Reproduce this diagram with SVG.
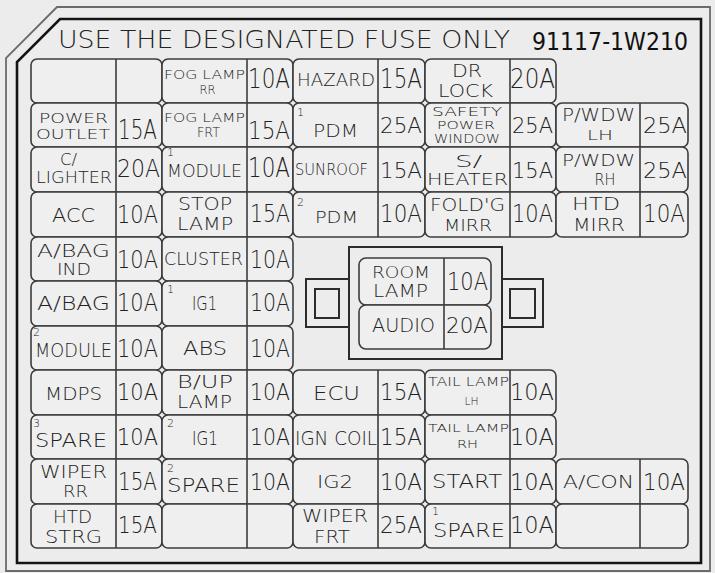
<svg xmlns="http://www.w3.org/2000/svg" width="715" height="573" viewBox="0 0 715 573">
<style>
.bg{fill:#ececec}
.cell{fill:#efefef;stroke:#3c3c3c;stroke-width:1.6}
.dv{stroke:#3c3c3c;stroke-width:1.6}
.outer{fill:none;stroke:#6a6a6a;stroke-width:1.8}
.inner{fill:none;stroke:#141414;stroke-width:2.6}
.box{fill:#ececec;stroke:#2c2c2c;stroke-width:2}
text{font-family:"DejaVu Sans","Liberation Sans",Arial,sans-serif;font-weight:200;fill:#222;text-anchor:middle}
.sup{text-anchor:start;font-size:11px}
.title{font-size:25px;fill:#222}
.pn{font-size:24px;font-weight:400;fill:#111}
</style>
<rect class="bg" x="0" y="0" width="715" height="573"/>
<g id="frame">
<path class="outer" d="M57,7 L710,7 L710,571 L6,571 L6,58 Z"/>
<path class="inner" d="M60,19 L701,19 L701,563 L17,563 L17,62 Z"/>
</g>
<g id="title">
<text class="title" x="284" y="48" textLength="452" lengthAdjust="spacingAndGlyphs">USE THE DESIGNATED FUSE ONLY</text>
<text class="pn" x="610" y="50" textLength="156" lengthAdjust="spacingAndGlyphs">91117-1W210</text>
</g>
<g id="connectors"></g>

<!-- Row 1 -->
<g id="r1c1"><rect class="cell" x="31" y="59" width="131" height="44" rx="6"/><line class="dv" x1="116" y1="59" x2="116" y2="103"/></g>
<g id="r1c2"><rect class="cell" x="162" y="59" width="131" height="44" rx="6"/><line class="dv" x1="247" y1="59" x2="247" y2="103"/>
<text x="204.5" y="79" font-size="13" textLength="81" lengthAdjust="spacingAndGlyphs">FOG LAMP</text>
<text x="207.5" y="94" font-size="12" textLength="16" lengthAdjust="spacingAndGlyphs">RR</text>
<text x="269" y="88" font-size="26" textLength="42" lengthAdjust="spacingAndGlyphs">10A</text></g>
<g id="r1c3"><rect class="cell" x="293" y="59" width="132" height="44" rx="6"/><line class="dv" x1="378" y1="59" x2="378" y2="103"/>
<text x="336" y="86" font-size="18" textLength="78" lengthAdjust="spacingAndGlyphs">HAZARD</text>
<text x="401" y="88" font-size="26" textLength="42" lengthAdjust="spacingAndGlyphs">15A</text></g>
<g id="r1c4"><rect class="cell" x="425" y="59" width="131" height="44" rx="6"/><line class="dv" x1="510" y1="59" x2="510" y2="103"/>
<text x="467" y="77" font-size="18" textLength="30" lengthAdjust="spacingAndGlyphs">DR</text>
<text x="465.5" y="97" font-size="18" textLength="55" lengthAdjust="spacingAndGlyphs">LOCK</text>
<text x="532.5" y="88" font-size="26" textLength="45" lengthAdjust="spacingAndGlyphs">20A</text></g>

<!-- Row 2 -->
<g id="r2c1"><rect class="cell" x="31" y="103" width="131" height="44" rx="6"/><line class="dv" x1="116" y1="103" x2="116" y2="147"/>
<text x="73.5" y="123" font-size="14" textLength="69" lengthAdjust="spacingAndGlyphs">POWER</text>
<text x="73" y="139" font-size="14" textLength="74" lengthAdjust="spacingAndGlyphs">OUTLET</text>
<text x="137.5" y="139" font-size="26" textLength="39" lengthAdjust="spacingAndGlyphs">15A</text></g>
<g id="r2c2"><rect class="cell" x="162" y="103" width="131" height="44" rx="6"/><line class="dv" x1="247" y1="103" x2="247" y2="147"/>
<text x="204.5" y="122" font-size="13" textLength="81" lengthAdjust="spacingAndGlyphs">FOG LAMP</text>
<text x="208.5" y="137" font-size="14" textLength="23" lengthAdjust="spacingAndGlyphs">FRT</text>
<text x="269" y="139" font-size="25" textLength="42" lengthAdjust="spacingAndGlyphs">15A</text></g>
<g id="r2c3"><rect class="cell" x="293" y="103" width="132" height="44" rx="6"/><line class="dv" x1="378" y1="103" x2="378" y2="147"/>
<text class="sup" x="297" y="116" text-anchor="start">1</text>
<text x="335.5" y="137" font-size="17" textLength="45" lengthAdjust="spacingAndGlyphs">PDM</text>
<text x="401" y="133" font-size="21" textLength="42" lengthAdjust="spacingAndGlyphs">25A</text></g>
<g id="r2c4"><rect class="cell" x="425" y="103" width="131" height="44" rx="6"/><line class="dv" x1="510" y1="103" x2="510" y2="147"/>
<text x="467" y="116" font-size="12" textLength="70" lengthAdjust="spacingAndGlyphs">SAFETY</text>
<text x="466" y="129" font-size="11" textLength="58" lengthAdjust="spacingAndGlyphs">POWER</text>
<text x="467" y="143" font-size="12" textLength="66" lengthAdjust="spacingAndGlyphs">WINDOW</text>
<text x="532.5" y="133" font-size="21" textLength="41" lengthAdjust="spacingAndGlyphs">25A</text></g>
<g id="r2c5"><rect class="cell" x="556" y="103" width="132" height="44" rx="6"/><line class="dv" x1="640" y1="103" x2="640" y2="147"/>
<text x="598.5" y="121" font-size="17" textLength="73" lengthAdjust="spacingAndGlyphs">P/WDW</text>
<text x="600" y="140" font-size="14" textLength="26" lengthAdjust="spacingAndGlyphs">LH</text>
<text x="665" y="133" font-size="21" textLength="44" lengthAdjust="spacingAndGlyphs">25A</text></g>

<!-- Row 3 -->
<g id="r3c1"><rect class="cell" x="31" y="147" width="131" height="45" rx="6"/><line class="dv" x1="116" y1="147" x2="116" y2="192"/>
<text x="68.5" y="165" font-size="15" textLength="17" lengthAdjust="spacingAndGlyphs">C/</text>
<text x="74" y="183" font-size="16" textLength="76" lengthAdjust="spacingAndGlyphs">LIGHTER</text>
<text x="138.5" y="177" font-size="25" textLength="43" lengthAdjust="spacingAndGlyphs">20A</text></g>
<g id="r3c2"><rect class="cell" x="162" y="147" width="131" height="45" rx="6"/><line class="dv" x1="247" y1="147" x2="247" y2="192"/>
<text class="sup" x="167" y="156" text-anchor="start">1</text>
<text x="204.5" y="177" font-size="18" textLength="75" lengthAdjust="spacingAndGlyphs">MODULE</text>
<text x="269" y="177" font-size="26" textLength="42" lengthAdjust="spacingAndGlyphs">10A</text></g>
<g id="r3c3"><rect class="cell" x="293" y="147" width="132" height="45" rx="6"/><line class="dv" x1="378" y1="147" x2="378" y2="192"/>
<text x="331.5" y="175" font-size="16" textLength="73" lengthAdjust="spacingAndGlyphs">SUNROOF</text>
<text x="401" y="178" font-size="21" textLength="42" lengthAdjust="spacingAndGlyphs">15A</text></g>
<g id="r3c4"><rect class="cell" x="425" y="147" width="131" height="45" rx="6"/><line class="dv" x1="510" y1="147" x2="510" y2="192"/>
<text x="468.5" y="167" font-size="16" textLength="27" lengthAdjust="spacingAndGlyphs">S/</text>
<text x="467.5" y="185" font-size="16" textLength="81" lengthAdjust="spacingAndGlyphs">HEATER</text>
<text x="532.5" y="178" font-size="21" textLength="41" lengthAdjust="spacingAndGlyphs">15A</text></g>
<g id="r3c5"><rect class="cell" x="556" y="147" width="132" height="45" rx="6"/><line class="dv" x1="640" y1="147" x2="640" y2="192"/>
<text x="598.5" y="166" font-size="16" textLength="73" lengthAdjust="spacingAndGlyphs">P/WDW</text>
<text x="605" y="185" font-size="16" textLength="21" lengthAdjust="spacingAndGlyphs">RH</text>
<text x="665" y="178" font-size="21" textLength="44" lengthAdjust="spacingAndGlyphs">25A</text></g>

<!-- Row 4 -->
<g id="r4c1"><rect class="cell" x="31" y="192" width="131" height="45" rx="6"/><line class="dv" x1="116" y1="192" x2="116" y2="237"/>
<text x="73.5" y="222" font-size="20" textLength="43" lengthAdjust="spacingAndGlyphs">ACC</text>
<text x="137.5" y="223" font-size="25" textLength="41" lengthAdjust="spacingAndGlyphs">10A</text></g>
<g id="r4c2"><rect class="cell" x="162" y="192" width="131" height="45" rx="6"/><line class="dv" x1="247" y1="192" x2="247" y2="237"/>
<text x="205" y="210" font-size="17" textLength="54" lengthAdjust="spacingAndGlyphs">STOP</text>
<text x="205" y="230" font-size="18" textLength="56" lengthAdjust="spacingAndGlyphs">LAMP</text>
<text x="270" y="222" font-size="24" textLength="40" lengthAdjust="spacingAndGlyphs">15A</text></g>
<g id="r4c3"><rect class="cell" x="293" y="192" width="132" height="45" rx="6"/><line class="dv" x1="378" y1="192" x2="378" y2="237"/>
<text class="sup" x="297" y="206" text-anchor="start">2</text>
<text x="336.5" y="223" font-size="16" textLength="43" lengthAdjust="spacingAndGlyphs">PDM</text>
<text x="401" y="222" font-size="24" textLength="42" lengthAdjust="spacingAndGlyphs">10A</text></g>
<g id="r4c4"><rect class="cell" x="425" y="192" width="131" height="45" rx="6"/><line class="dv" x1="510" y1="192" x2="510" y2="237"/>
<text x="467.5" y="211" font-size="18" textLength="75" lengthAdjust="spacingAndGlyphs">FOLD'G</text>
<text x="468" y="230.5" font-size="16.5" textLength="48" lengthAdjust="spacingAndGlyphs">MIRR</text>
<text x="532.5" y="222" font-size="24" textLength="41" lengthAdjust="spacingAndGlyphs">10A</text></g>
<g id="r4c5"><rect class="cell" x="556" y="192" width="132" height="45" rx="6"/><line class="dv" x1="640" y1="192" x2="640" y2="237"/>
<text x="596" y="210" font-size="17" textLength="48" lengthAdjust="spacingAndGlyphs">HTD</text>
<text x="599" y="230.5" font-size="17" textLength="52" lengthAdjust="spacingAndGlyphs">MIRR</text>
<text x="664" y="222" font-size="24" textLength="42" lengthAdjust="spacingAndGlyphs">10A</text></g>

<!-- Row 5 -->
<g id="r5c1"><rect class="cell" x="31" y="237" width="131" height="44" rx="6"/><line class="dv" x1="116" y1="237" x2="116" y2="281"/>
<text x="73.5" y="257" font-size="17" textLength="73" lengthAdjust="spacingAndGlyphs">A/BAG</text>
<text x="74" y="275" font-size="15.5" textLength="34" lengthAdjust="spacingAndGlyphs">IND</text>
<text x="137.5" y="268" font-size="25" textLength="41" lengthAdjust="spacingAndGlyphs">10A</text></g>
<g id="r5c2"><rect class="cell" x="162" y="237" width="131" height="44" rx="6"/><line class="dv" x1="247" y1="237" x2="247" y2="281"/>
<text x="203.5" y="265" font-size="17" textLength="79" lengthAdjust="spacingAndGlyphs">CLUSTER</text>
<text x="270" y="268" font-size="25" textLength="40" lengthAdjust="spacingAndGlyphs">10A</text></g>

<!-- Row 6 -->
<g id="r6c1"><rect class="cell" x="31" y="281" width="131" height="45" rx="6"/><line class="dv" x1="116" y1="281" x2="116" y2="326"/>
<text x="73.5" y="310" font-size="20" textLength="73" lengthAdjust="spacingAndGlyphs">A/BAG</text>
<text x="137.5" y="311" font-size="25" textLength="41" lengthAdjust="spacingAndGlyphs">10A</text></g>
<g id="r6c2"><rect class="cell" x="162" y="281" width="131" height="45" rx="6"/><line class="dv" x1="247" y1="281" x2="247" y2="326"/>
<text class="sup" x="167" y="293" text-anchor="start">1</text>
<text x="204.5" y="310" font-size="20" textLength="25" lengthAdjust="spacingAndGlyphs">IG1</text>
<text x="270" y="311" font-size="25" textLength="40" lengthAdjust="spacingAndGlyphs">10A</text></g>

<!-- Row 7 -->
<g id="r7c1"><rect class="cell" x="31" y="326" width="131" height="44" rx="6"/><line class="dv" x1="116" y1="326" x2="116" y2="370"/>
<text class="sup" x="33" y="336" text-anchor="start">2</text>
<text x="73.5" y="357" font-size="19" textLength="77" lengthAdjust="spacingAndGlyphs">MODULE</text>
<text x="137.5" y="357" font-size="25" textLength="41" lengthAdjust="spacingAndGlyphs">10A</text></g>
<g id="r7c2"><rect class="cell" x="162" y="326" width="131" height="44" rx="6"/><line class="dv" x1="247" y1="326" x2="247" y2="370"/>
<text x="205" y="355" font-size="20" textLength="44" lengthAdjust="spacingAndGlyphs">ABS</text>
<text x="270" y="357" font-size="25" textLength="40" lengthAdjust="spacingAndGlyphs">10A</text></g>

<!-- Relay block -->
<g id="relay">
<rect class="box" x="306" y="279" width="43" height="48"/>
<rect class="box" x="315" y="289" width="24" height="29"/>
<rect class="box" x="502" y="279" width="41" height="48"/>
<rect class="box" x="510" y="289" width="25" height="29"/>
<rect class="box" x="349" y="247" width="153" height="112"/>
</g>
<g id="room-lamp"><rect class="cell" x="359" y="258" width="132" height="47" rx="7"/><line class="dv" x1="444" y1="258" x2="444" y2="305"/>
<text x="401" y="278" font-size="16" textLength="58" lengthAdjust="spacingAndGlyphs">ROOM</text>
<text x="400.5" y="297" font-size="17" textLength="55" lengthAdjust="spacingAndGlyphs">LAMP</text>
<text x="467.5" y="290" font-size="25" textLength="41" lengthAdjust="spacingAndGlyphs">10A</text></g>
<g id="audio"><rect class="cell" x="359" y="305" width="132" height="44" rx="7"/><line class="dv" x1="444" y1="305" x2="444" y2="349"/>
<text x="403.5" y="332" font-size="19" textLength="63" lengthAdjust="spacingAndGlyphs">AUDIO</text>
<text x="467" y="333" font-size="22" textLength="42" lengthAdjust="spacingAndGlyphs">20A</text></g>

<!-- Row 8 -->
<g id="r8c1"><rect class="cell" x="31" y="370" width="131" height="45" rx="6"/><line class="dv" x1="116" y1="370" x2="116" y2="415"/>
<text x="73.5" y="400" font-size="18" textLength="57" lengthAdjust="spacingAndGlyphs">MDPS</text>
<text x="137.5" y="400" font-size="23" textLength="41" lengthAdjust="spacingAndGlyphs">10A</text></g>
<g id="r8c2"><rect class="cell" x="162" y="370" width="131" height="45" rx="6"/><line class="dv" x1="247" y1="370" x2="247" y2="415"/>
<text x="205" y="388" font-size="17" textLength="56" lengthAdjust="spacingAndGlyphs">B/UP</text>
<text x="204.5" y="408" font-size="17" textLength="55" lengthAdjust="spacingAndGlyphs">LAMP</text>
<text x="270" y="400" font-size="23" textLength="40" lengthAdjust="spacingAndGlyphs">10A</text></g>
<g id="r8c3"><rect class="cell" x="293" y="370" width="132" height="45" rx="6"/><line class="dv" x1="378" y1="370" x2="378" y2="415"/>
<text x="336.5" y="400" font-size="19" textLength="47" lengthAdjust="spacingAndGlyphs">ECU</text>
<text x="401" y="400" font-size="23" textLength="42" lengthAdjust="spacingAndGlyphs">15A</text></g>
<g id="r8c4"><rect class="cell" x="425" y="370" width="131" height="45" rx="6"/><line class="dv" x1="510" y1="370" x2="510" y2="415"/>
<text x="468.5" y="386" font-size="12" textLength="81" lengthAdjust="spacingAndGlyphs">TAIL LAMP</text>
<text x="471.5" y="405" font-size="11" textLength="14" lengthAdjust="spacingAndGlyphs">LH</text>
<text x="532" y="400" font-size="23" textLength="44" lengthAdjust="spacingAndGlyphs">10A</text></g>

<!-- Row 9 -->
<g id="r9c1"><rect class="cell" x="31" y="415" width="131" height="44" rx="6"/><line class="dv" x1="116" y1="415" x2="116" y2="459"/>
<text class="sup" x="33" y="427" text-anchor="start">3</text>
<text x="71" y="447" font-size="19" textLength="72" lengthAdjust="spacingAndGlyphs">SPARE</text>
<text x="137.5" y="445" font-size="23" textLength="41" lengthAdjust="spacingAndGlyphs">10A</text></g>
<g id="r9c2"><rect class="cell" x="162" y="415" width="131" height="44" rx="6"/><line class="dv" x1="247" y1="415" x2="247" y2="459"/>
<text class="sup" x="167" y="427" text-anchor="start">2</text>
<text x="205" y="445" font-size="20" textLength="26" lengthAdjust="spacingAndGlyphs">IG1</text>
<text x="270" y="445" font-size="23" textLength="40" lengthAdjust="spacingAndGlyphs">10A</text></g>
<g id="r9c3"><rect class="cell" x="293" y="415" width="132" height="44" rx="6"/><line class="dv" x1="378" y1="415" x2="378" y2="459"/>
<text x="336" y="445" font-size="20" textLength="82" lengthAdjust="spacingAndGlyphs">IGN COIL</text>
<text x="401" y="445" font-size="23" textLength="42" lengthAdjust="spacingAndGlyphs">15A</text></g>
<g id="r9c4"><rect class="cell" x="425" y="415" width="131" height="44" rx="6"/><line class="dv" x1="510" y1="415" x2="510" y2="459"/>
<text x="468.5" y="432" font-size="11" textLength="81" lengthAdjust="spacingAndGlyphs">TAIL LAMP</text>
<text x="467.5" y="448" font-size="11" textLength="21" lengthAdjust="spacingAndGlyphs">RH</text>
<text x="532" y="445" font-size="23" textLength="44" lengthAdjust="spacingAndGlyphs">10A</text></g>

<!-- Row 10 -->
<g id="r10c1"><rect class="cell" x="31" y="459" width="131" height="45" rx="6"/><line class="dv" x1="116" y1="459" x2="116" y2="504"/>
<text x="73.5" y="478" font-size="17" textLength="67" lengthAdjust="spacingAndGlyphs">WIPER</text>
<text x="75.5" y="497" font-size="16" textLength="25" lengthAdjust="spacingAndGlyphs">RR</text>
<text x="137.5" y="490" font-size="24" textLength="39" lengthAdjust="spacingAndGlyphs">15A</text></g>
<g id="r10c2"><rect class="cell" x="162" y="459" width="131" height="45" rx="6"/><line class="dv" x1="247" y1="459" x2="247" y2="504"/>
<text class="sup" x="167" y="472" text-anchor="start">2</text>
<text x="203.5" y="492" font-size="19" textLength="73" lengthAdjust="spacingAndGlyphs">SPARE</text>
<text x="270" y="490" font-size="23" textLength="40" lengthAdjust="spacingAndGlyphs">10A</text></g>
<g id="r10c3"><rect class="cell" x="293" y="459" width="132" height="45" rx="6"/><line class="dv" x1="378" y1="459" x2="378" y2="504"/>
<text x="335" y="488" font-size="18" textLength="36" lengthAdjust="spacingAndGlyphs">IG2</text>
<text x="401" y="490" font-size="23" textLength="42" lengthAdjust="spacingAndGlyphs">10A</text></g>
<g id="r10c4"><rect class="cell" x="425" y="459" width="131" height="45" rx="6"/><line class="dv" x1="510" y1="459" x2="510" y2="504"/>
<text x="467" y="488" font-size="20" textLength="70" lengthAdjust="spacingAndGlyphs">START</text>
<text x="532" y="490" font-size="23" textLength="44" lengthAdjust="spacingAndGlyphs">10A</text></g>
<g id="r10c5"><rect class="cell" x="556" y="459" width="132" height="45" rx="6"/><line class="dv" x1="640" y1="459" x2="640" y2="504"/>
<text x="598.5" y="488" font-size="17" textLength="71" lengthAdjust="spacingAndGlyphs">A/CON</text>
<text x="664" y="490" font-size="23" textLength="42" lengthAdjust="spacingAndGlyphs">10A</text></g>

<!-- Row 11 -->
<g id="r11c1"><rect class="cell" x="31" y="504" width="131" height="44" rx="6"/><line class="dv" x1="116" y1="504" x2="116" y2="548"/>
<text x="72.5" y="523" font-size="17" textLength="39" lengthAdjust="spacingAndGlyphs">HTD</text>
<text x="73.5" y="543" font-size="18" textLength="57" lengthAdjust="spacingAndGlyphs">STRG</text>
<text x="137.5" y="533" font-size="23" textLength="39" lengthAdjust="spacingAndGlyphs">15A</text></g>
<g id="r11c2"><rect class="cell" x="162" y="504" width="131" height="44" rx="6"/><line class="dv" x1="247" y1="504" x2="247" y2="548"/></g>
<g id="r11c3"><rect class="cell" x="293" y="504" width="132" height="44" rx="6"/><line class="dv" x1="378" y1="504" x2="378" y2="548"/>
<text x="335" y="522" font-size="17" textLength="66" lengthAdjust="spacingAndGlyphs">WIPER</text>
<text x="332" y="543" font-size="18" textLength="36" lengthAdjust="spacingAndGlyphs">FRT</text>
<text x="401" y="533" font-size="23" textLength="42" lengthAdjust="spacingAndGlyphs">25A</text></g>
<g id="r11c4"><rect class="cell" x="425" y="504" width="131" height="44" rx="6"/><line class="dv" x1="510" y1="504" x2="510" y2="548"/>
<text class="sup" x="432" y="515" text-anchor="start">1</text>
<text x="469" y="537" font-size="20" textLength="72" lengthAdjust="spacingAndGlyphs">SPARE</text>
<text x="532" y="533" font-size="23" textLength="44" lengthAdjust="spacingAndGlyphs">10A</text></g>
<g id="r11c5"><rect class="cell" x="556" y="504" width="132" height="44" rx="6"/><line class="dv" x1="640" y1="504" x2="640" y2="548"/></g>
</svg>
